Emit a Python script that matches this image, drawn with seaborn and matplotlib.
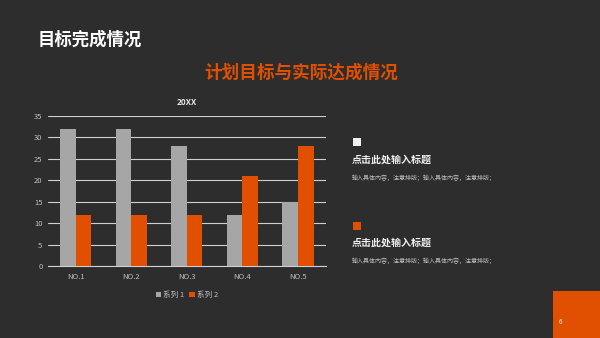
import matplotlib
matplotlib.use("Agg")
import matplotlib.pyplot as plt
import seaborn as sns
import pandas as pd
from matplotlib.patches import Rectangle

categories = ["NO.1", "NO.2", "NO.3", "NO.4", "NO.5"]
series1 = [32, 32, 28, 12, 15]
series2 = [12, 12, 12, 21, 28]
series_names = ["系列 1", "系列 2"]
yticks = [0, 5, 10, 15, 20, 25, 30, 35]

BG = "#2d2d2d"
ORANGE = "#e05000"
GREY = "#a6a6a6"

sns.set_theme(style="dark")
plt.rcParams["font.family"] = ["Noto Sans CJK SC", "DejaVu Sans"]

df = pd.DataFrame({
    "cat": categories * 2,
    "val": series1 + series2,
    "series": [series_names[0]] * 5 + [series_names[1]] * 5,
})

fig = plt.figure(figsize=(6, 3.38), dpi=100, facecolor=BG)
ax = fig.add_axes([0.08, 0.213, 0.463, 0.444])
ax.set_facecolor(BG)

sns.barplot(data=df, x="cat", y="val", hue="series", ax=ax,
            palette=[GREY, ORANGE], width=0.56, saturation=1,
            edgecolor="none", linewidth=0, zorder=3)

ax.set_ylim(0, 35)
ax.set_xlim(-0.5, 4.5)
ax.set_yticks(yticks)
ax.set_yticklabels([str(t) for t in yticks])
ax.yaxis.grid(True, color="#d0d0d0", linewidth=0.8, zorder=0)
ax.xaxis.grid(False)
for s in ["top", "right", "left"]:
    ax.spines[s].set_visible(False)
ax.spines["bottom"].set_color("#d0d0d0")
ax.spines["bottom"].set_linewidth(0.8)
ax.tick_params(axis="both", colors="#bfbfbf", labelsize=5.5, length=0, pad=4)
ax.tick_params(axis="x", pad=5)
ax.set_xlabel("")
ax.set_ylabel("")
ax.set_title("20XX", color="#e6e6e6", fontsize=6, fontweight="bold", pad=8)

leg = ax.legend(loc="upper center", bbox_to_anchor=(0.5, -0.12), ncol=2,
                frameon=False, fontsize=5.5, handlelength=0.7, handleheight=0.7,
                handletextpad=0.3, columnspacing=0.6, labelcolor="#bfbfbf")

# Slide text
fig.text(38 / 600, 1 - 40 / 338, "目标完成情况", color="white", fontsize=12.5,
         fontweight="bold", va="center", ha="left")
fig.text(301 / 600, 1 - 73 / 338, "计划目标与实际达成情况", color=ORANGE, fontsize=12.7,
         fontweight="bold", va="center", ha="center")

# right panel
fig.patches.append(Rectangle((353 / 600, 1 - 146 / 338), 8 / 600, 8 / 338,
                             transform=fig.transFigure, facecolor="#f0f0f0",
                             edgecolor="none"))
fig.patches.append(Rectangle((353 / 600, 1 - 230 / 338), 8 / 600, 8 / 338,
                             transform=fig.transFigure, facecolor=ORANGE,
                             edgecolor="none"))
for yh, yb in [(160, 178), (243, 261)]:
    fig.text(352 / 600, 1 - yh / 338, "点击此处输入标题", color="#f0f0f0",
             fontsize=7.2, fontweight="bold", va="center", ha="left")
    fig.text(352 / 600, 1 - yb / 338, "输入具体内容，注意排版；输入具体内容，注意排版；",
             color="#bfbfbf", fontsize=4.3, va="center", ha="left")

fig.patches.append(Rectangle((553 / 600, 0), 47 / 600, 47 / 338,
                             transform=fig.transFigure, facecolor=ORANGE,
                             edgecolor="none"))
fig.text(560 / 600, 1 - 322 / 338, "6", color="#f0f0f0", fontsize=4.5,
         va="center", ha="center")

fig.savefig("out.png", dpi=100, facecolor=BG)
